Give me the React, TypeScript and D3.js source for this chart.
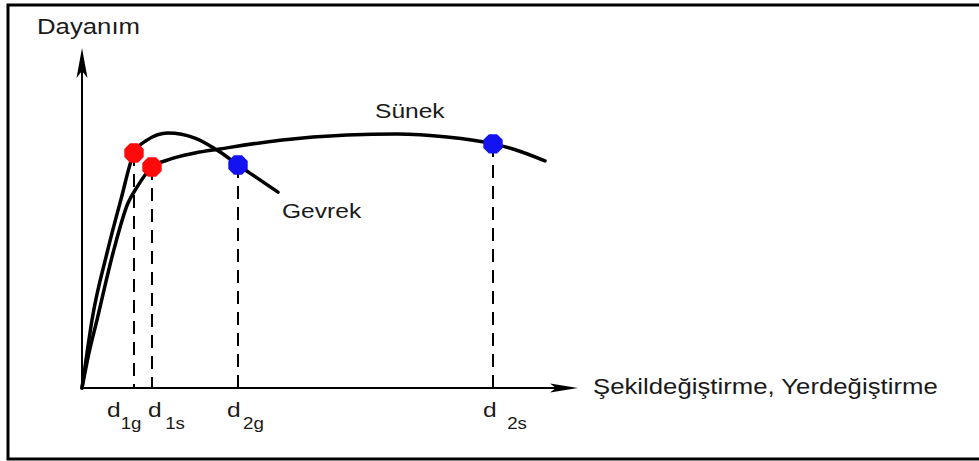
import React from "react";
import * as d3 from "d3";

// Curve data (abstract units: deformation vs strength)
const gevrekX = [0, 0.1, 0.2, 0.5, 0.78, 1.04, 1.3, 1.72, 2.26, 2.76, 3.12, 3.5, 3.92];
const gevrekY = [0, 1.03, 2.0, 3.97, 5.55, 6.91, 7.29, 7.5, 7.35, 6.94, 6.56, 6.18, 5.76];

const sunekX = [0, 0.14, 0.3, 0.62, 0.92, 1.1, 1.4, 1.72, 2.26, 2.76, 3.96, 5.3, 6.3, 7.3, 8.22, 8.62, 9.26];
const sunekY = [0, 1.03, 2.0, 3.97, 5.44, 5.91, 6.5, 6.71, 6.91, 7.03, 7.29, 7.44, 7.47, 7.38, 7.18, 7.03, 6.68];

// Marked points
const markerSub = ["1g", "1s", "2g", "2s"];
const markerX = [1.04, 1.4, 3.12, 8.22];
const markerY = [6.91, 6.5, 6.56, 7.18];
const markerKind = ["red", "red", "blue", "blue"];

// Curve labels
const curveLabels = ["Sünek", "Gevrek"];
const curveLabelX = [5.86, 4.0];
const curveLabelY = [7.94, 5.0];

const yTitle = "Dayanım";
const xTitle = "Şekildeğiştirme, Yerdeğiştirme";

// layout (not data)
const W = 979;
const H = 461;
const labelDx = [-27, -4, -11, -10];
const subDx = [0, 3, 2, 9];
const colors: Record<string, string> = { red: "#ff0a0a", blue: "#1212f2" };
const FONT = "'Liberation Sans', Arial, sans-serif";
const SX = 1.17;

export default function App() {
  const x = d3.scaleLinear().domain([0, 10]).range([82, 582]);
  const y = d3.scaleLinear().domain([0, 10]).range([388, 48]);
  const line = d3
    .line<[number, number]>()
    .x((d) => x(d[0]))
    .y((d) => y(d[1]))
    .curve(d3.curveMonotoneX);

  const gev: [number, number][] = gevrekX.map((v, i) => [v, gevrekY[i]]);
  const sun: [number, number][] = sunekX.map((v, i) => [v, sunekY[i]]);

  const ox = x(0);
  const oy = y(0);

  const octagon = (cx: number, cy: number, r: number) => {
    const pts = d3.range(8).map((k) => {
      const a = (Math.PI / 8) * (2 * k + 1);
      return [cx + r * Math.cos(a), cy + r * Math.sin(a)];
    });
    return "M" + pts.map((p) => p.join(",")).join("L") + "Z";
  };

  const xEnd = 578;
  const yEnd = 48;

  return (
    <svg
      width={W}
      height={H}
      style={{ position: "absolute", left: 0, top: 0, background: "#fff" }}
      fontFamily={FONT}
    >
      <rect x={0} y={0} width={W} height={H} fill="#fff" />
      <rect x={8} y={5} width={1100} height={454} fill="none" stroke="#000" strokeWidth={3} />

      {/* axes */}
      <line x1={ox} y1={oy} x2={ox} y2={yEnd + 12} stroke="#000" strokeWidth={2} />
      <path
        d={`M${ox},${yEnd} L${ox - 5.5},${yEnd + 30} L${ox},${yEnd + 23} L${ox + 5.5},${yEnd + 30} Z`}
        fill="#000"
      />
      <line x1={ox} y1={oy} x2={xEnd - 12} y2={oy} stroke="#000" strokeWidth={2} />
      <path
        d={`M${xEnd},${oy} L${xEnd - 28},${oy - 4.5} L${xEnd - 22},${oy} L${xEnd - 28},${oy + 4.5} Z`}
        fill="#000"
      />

      {/* dashed drops */}
      {markerX.map((v, i) => (
        <line
          key={"dl" + i}
          x1={x(v)}
          x2={x(v)}
          y1={y(markerY[i])}
          y2={oy}
          stroke="#000"
          strokeWidth={2}
          strokeDasharray="13,8"
        />
      ))}

      {/* curves */}
      <path d={line(gev) || ""} fill="none" stroke="#000" strokeWidth={3.5} strokeLinecap="round" />
      <path d={line(sun) || ""} fill="none" stroke="#000" strokeWidth={3.5} strokeLinecap="round" />

      {/* markers */}
      {markerX.map((v, i) => (
        <path key={"m" + i} d={octagon(x(v), y(markerY[i]), 10.5)} fill={colors[markerKind[i]]} />
      ))}

      {/* tick labels */}
      {markerX.map((v, i) => (
        <text
          key={"t" + i}
          transform={`translate(${x(v) + labelDx[i]},417) scale(${SX},1)`}
          fill="#1a1a1a"
        >
          <tspan fontSize={21}>d</tspan>
          <tspan fontSize={16} dx={subDx[i]} dy={12}>
            {markerSub[i]}
          </tspan>
        </text>
      ))}

      {/* curve labels */}
      {curveLabels.map((t, i) => (
        <text
          key={"c" + i}
          transform={`translate(${x(curveLabelX[i])},${y(curveLabelY[i])}) scale(${SX},1)`}
          fontSize={21}
          fill="#1a1a1a"
        >
          {t}
        </text>
      ))}

      {/* axis titles */}
      <text transform={`translate(37,34) scale(${SX},1)`} fontSize={22} fill="#1a1a1a">
        {yTitle}
      </text>
      <text transform={`translate(593,394) scale(${SX},1)`} fontSize={22} fill="#1a1a1a">
        {xTitle}
      </text>
    </svg>
  );
}
